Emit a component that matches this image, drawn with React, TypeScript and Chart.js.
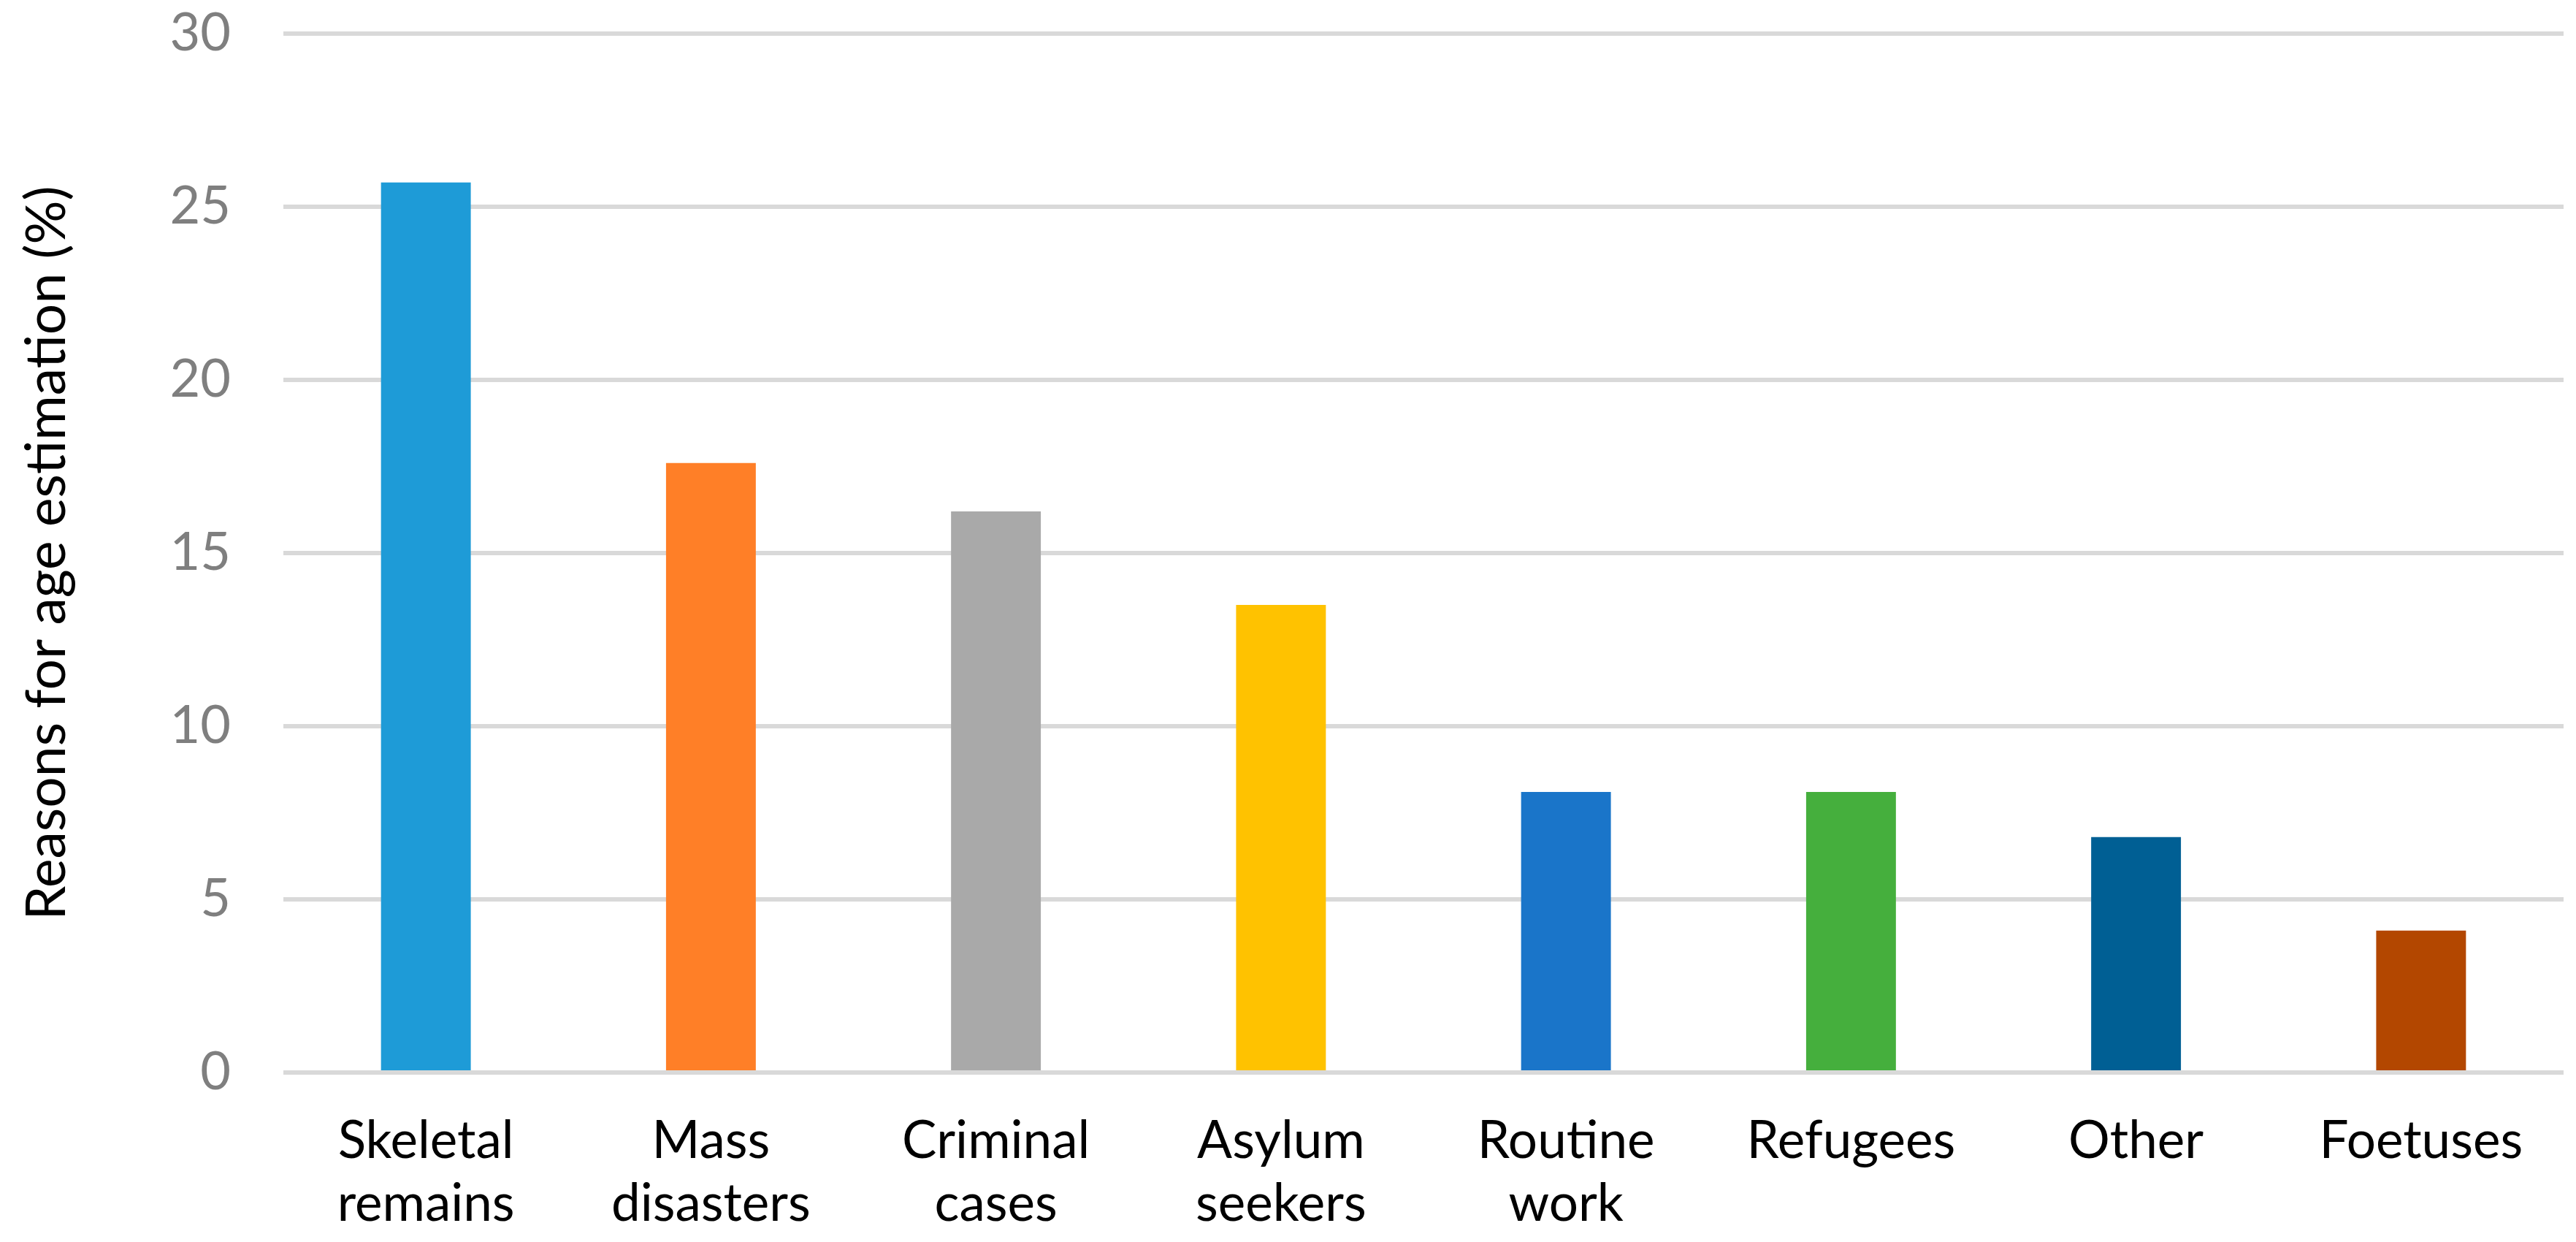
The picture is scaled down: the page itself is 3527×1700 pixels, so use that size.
import React, { useEffect, useRef } from "react";
import { Chart, registerables } from "chart.js";

Chart.register(...registerables);

const categories: string[][] = [
  ["Skeletal", "remains"],
  ["Mass", "disasters"],
  ["Criminal", "cases"],
  ["Asylum", "seekers"],
  ["Routine", "work"],
  ["Refugees"],
  ["Other"],
  ["Foetuses"],
];
const values: number[] = [25.7, 17.6, 16.2, 13.5, 8.1, 8.1, 6.8, 4.1];
const barColors: string[] = [
  "#1E9BD7",
  "#FF7F27",
  "#A9A9A9",
  "#FFC200",
  "#1A75C9",
  "#45AF3D",
  "#005F94",
  "#B34700",
];
const yTitle = "Reasons for age estimation (%)";
const yMin = 0;
const yMax = 30;
const yStep = 5;

const FONT = "Lato, 'Open Sans', sans-serif";

export default function App() {
  const ref = useRef<HTMLCanvasElement | null>(null);
  useEffect(() => {
    if (!ref.current) return;
    const chart = new Chart(ref.current, {
      type: "bar",
      data: {
        labels: categories,
        datasets: [
          {
            data: values,
            backgroundColor: barColors,
            borderWidth: 0,
            categoryPercentage: 1,
            barPercentage: 0.315,
          },
        ],
      },
      options: {
        animation: false,
        responsive: false,
        maintainAspectRatio: false,
        devicePixelRatio: 1,
        layout: { padding: { top: 46, right: 17, bottom: 0, left: 0 } },
        plugins: { legend: { display: false }, tooltip: { enabled: false } },
        scales: {
          x: {
            grid: { display: false, drawTicks: false },
            border: { display: false },
            ticks: {
              color: "#000000",
              font: { family: FONT, size: 71 },
              padding: 52,
              maxRotation: 0,
              autoSkip: false,
            },
            afterFit: (s: any) => {
              s.height = 232;
            },
          },
          y: {
            min: yMin,
            max: yMax,
            ticks: {
              stepSize: yStep,
              color: "#7F7F7F",
              font: { family: FONT, size: 72 },
              padding: 72,
            },
            grid: { color: "#D9D9D9", lineWidth: 6, drawTicks: false },
            border: { display: false },
            title: {
              display: true,
              text: yTitle,
              color: "#000000",
              font: { family: FONT, size: 75 },
              padding: { top: 20, bottom: 0 },
            },
            afterFit: (s: any) => {
              s.width = 388;
              s.paddingTop = 0;
              s.paddingBottom = 0;
            },
          },
        },
      },
    });
    return () => chart.destroy();
  }, []);
  return (
    <div style={{ position: "fixed", left: 0, top: 0, width: 3527, height: 1700, background: "#fff" }}>
      <canvas ref={ref} width={3527} height={1700} style={{ width: 3527, height: 1700 }} />
    </div>
  );
}
